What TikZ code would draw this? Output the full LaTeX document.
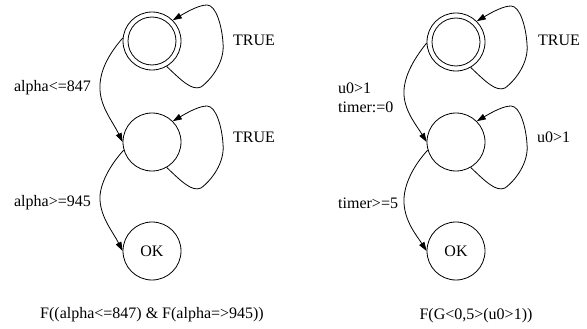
\documentclass[tikz,border=0pt]{standalone}
\usepackage{fontspec}
\setmainfont{Liberation Serif}
\usetikzlibrary{arrows.meta}
\begin{document}
\begin{tikzpicture}[x=1pt,y=-1pt,
  every node/.style={font=\fontsize{16}{19}\selectfont},
  state/.style={draw,circle,line width=0.8pt,minimum size=58pt,inner sep=0pt},
  lab/.style={inner sep=0pt,anchor=west},
  elab/.style={inner sep=0pt,anchor=east},
  edge/.style={line width=0.8pt,-{Triangle[length=9pt,width=6pt]}}]
\useasboundingbox (0,0) rectangle (587,329);
% left automaton
\node[state] (a1) at (152,41) {};
\draw[line width=0.8pt] (a1.center) circle[radius=24pt];
\node[state] (b1) at (152,142) {};
\node[state] (c1) at (152,251) {OK};
% right automaton
\node[state] (a2) at (456,42) {};
\draw[line width=0.8pt] (a2.center) circle[radius=24pt];
\node[state] (b2) at (456,142) {};
\node[state] (c2) at (456,251) {OK};
% self loops
\foreach \n in {a1,b1,a2,b2}{
  \begin{scope}[shift={(\n.center)}]
  \draw[edge] (\n.-60) .. controls (30,40) and (40,50) .. (49,46)
     .. controls (60,38) and (73,20) .. (71,2)
     .. controls (70,-15) and (64,-36) .. (55,-36)
     .. controls (48,-36) and (38,-31) .. (\n.45);
  \end{scope}
}
% transitions
\draw[edge] (a1.174) .. controls (108,55) and (99,72) .. (100,90)
   .. controls (101,108) and (113,122) .. (b1.west);
\draw[edge] (b1.196) .. controls (110,165) and (99,185) .. (100,200)
   .. controls (101,218) and (113,232) .. (c1.west);
\draw[edge] (a2.182) .. controls (413,60) and (403,78) .. (404,95)
   .. controls (405,112) and (417,126) .. (b2.west);
\draw[edge] (b2.196) .. controls (414,165) and (403,185) .. (404,203)
   .. controls (405,222) and (417,236) .. (c2.west);
% labels
\node[lab] (t1) at (233,40) {TRUE};
\node[lab] (t2) at (233,137) {TRUE};
\node[elab] (l1) at (91,88) {alpha<=847};
\node[elab] (l2) at (91,203) {alpha>=945};
\node[lab] (t3) at (538,40) {TRUE};
\node[lab] (t4) at (537,137) {u0>1};
\node[lab,align=left] (l3) at (338,97.5) {u0>1\\timer:=0};
\node[lab] (l4) at (338,203) {timer>=5};
% formulas
\node (f1) at (152,315) {F((alpha<=847) \& F(alpha=>945))};
\node (f2) at (476,316) {F(G<0,5>(u0>1))};
\end{tikzpicture}
\end{document}
